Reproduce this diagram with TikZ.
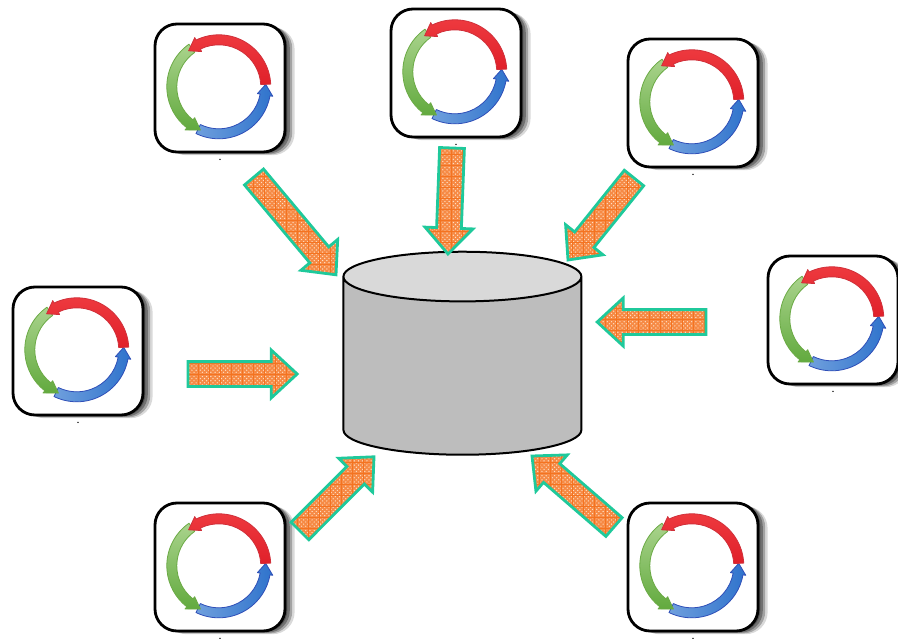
\documentclass[tikz,border=0pt]{standalone}
\usepackage{tikz}
\usetikzlibrary{calc,patterns,shadows,shapes.geometric}

\definecolor{arrowline}{HTML}{1FC99B}
\definecolor{arrowfill}{HTML}{F68A45}
\definecolor{arrowgrid}{HTML}{F47320}
\definecolor{arrowdots}{HTML}{FFE0C4}
\definecolor{dbbody}{HTML}{BDBDBD}
\definecolor{dbtop}{HTML}{D9D9D9}
\definecolor{ringredline}{HTML}{D0303A}
\definecolor{ringredtop}{HTML}{EE3A3F}
\definecolor{ringredbot}{HTML}{E0202A}
\definecolor{ringgreenline}{HTML}{6BAA45}
\definecolor{ringgreentop}{HTML}{A9D38C}
\definecolor{ringgreenbot}{HTML}{62AA3E}
\definecolor{ringblueline}{HTML}{2F4FB8}
\definecolor{ringblueleft}{HTML}{6F9FDD}
\definecolor{ringblueright}{HTML}{2F73CC}

\newcommand{\ringseg}[4]{
  \draw[#4] (#1:13mm) arc[start angle=#1,end angle=#2,radius=13mm]
    -- (#2:13.7mm) -- (#3:11.75mm) -- (#2:9.8mm) -- (#2:10.5mm)
    arc[start angle=#2,end angle=#1,radius=10.5mm] -- cycle;
}
\newcommand{\blockarrow}[2]{
  \coordinate (#2base) at ($(#2)!6.5mm!(#1)$);
  \draw[blockarrow] ($(#1)!3.1mm!90:(#2)$) -- ($(#2base)!3.1mm!90:(#2)$)
    -- ($(#2base)!6mm!90:(#2)$) -- (#2) -- ($(#2base)!6mm!-90:(#2)$)
    -- ($(#2base)!3.1mm!-90:(#2)$) -- ($(#1)!3.1mm!-90:(#2)$) -- cycle;
}

\begin{document}
\begin{tikzpicture}

  \path[use as bounding box] (0mm,0mm) rectangle (224.5mm,159.5mm);

  \tikzstyle{cyclenode}=[draw,rectangle,fill=white,line width=.7mm,rounded corners=5.5mm,minimum height=32mm,minimum width=32.5mm,
    drop shadow={shadow xshift=.6mm,shadow yshift=-.2mm,opacity=.3,fill=black},
    drop shadow={shadow xshift=1.2mm,shadow yshift=-.4mm,opacity=.3,fill=black},
    drop shadow={shadow xshift=1.8mm,shadow yshift=-.6mm,opacity=.25,fill=black},
    drop shadow={shadow xshift=2.4mm,shadow yshift=-.8mm,opacity=.15,fill=black}]
  \tikzstyle{ringred}=[line width=.2mm,line join=round,draw=ringredline,top color=ringredtop,bottom color=ringredbot]
  \tikzstyle{ringgreen}=[line width=.2mm,line join=round,draw=ringgreenline,top color=ringgreentop,bottom color=ringgreenbot]
  \tikzstyle{ringblue}=[line width=.2mm,line join=round,draw=ringblueline,left color=ringblueleft,right color=ringblueright]
  \tikzstyle{dbnode}=[draw,cylinder,shape border rotate=90,aspect=5.3,line width=.5mm,minimum height=50.75mm,minimum width=59.5mm,
    cylinder uses custom fill,cylinder body fill=dbbody,cylinder end fill=dbtop]
  \tikzstyle{blockarrow}=[draw=arrowline,line width=.7mm,preaction={fill=arrowfill},pattern=crosshatch dots,pattern color=arrowdots,
    path picture={\draw[arrowgrid,line width=.12mm,step=2.75mm] (path picture bounding box.south west) grid (path picture bounding box.north east);}]

  % nodes
  \node[dbnode] (db) at (115.6mm,67.1mm) {};

  \foreach \n/\x/\y in {1/55/137.5, 2/114/141.25, 3/173.25/133.75, 4/208.25/79.5, 5/19.5/71.75, 6/55/17.75, 7/173.25/17.75} {
    \node[cyclenode] (cycle\n) at (\x mm,\y mm) {};
    \begin{scope}[shift={(cycle\n.center)},xshift=-.3mm,yshift=.3mm]
      \ringseg{244}{350}{363}{ringblue}
      \ringseg{125}{232}{247}{ringgreen}
      \ringseg{3}{116}{130}{ringred}
    \end{scope}
    \fill (cycle\n.south) ++(0mm,-1.5mm) circle (.2mm);
  }

  % arrows
  \coordinate (a1) at (63.5mm,115.25mm);
  \coordinate (b1) at (84mm,90.8mm);
  \coordinate (a2) at (113mm,122.5mm);
  \coordinate (b2) at (112mm,96mm);
  \coordinate (a3) at (158.5mm,115mm);
  \coordinate (b3) at (142mm,94.5mm);
  \coordinate (a4) at (176.5mm,79mm);
  \coordinate (b4) at (149.3mm,79mm);
  \coordinate (a5) at (47mm,66mm);
  \coordinate (b5) at (74.3mm,66mm);
  \coordinate (a6) at (75mm,26.75mm);
  \coordinate (b6) at (93.5mm,45.3mm);
  \coordinate (a7) at (153.5mm,27.75mm);
  \coordinate (b7) at (133mm,45.5mm);

  \blockarrow{a1}{b1}
  \blockarrow{a2}{b2}
  \blockarrow{a3}{b3}
  \blockarrow{a4}{b4}
  \blockarrow{a5}{b5}
  \blockarrow{a6}{b6}
  \blockarrow{a7}{b7}

\end{tikzpicture}
\end{document}
